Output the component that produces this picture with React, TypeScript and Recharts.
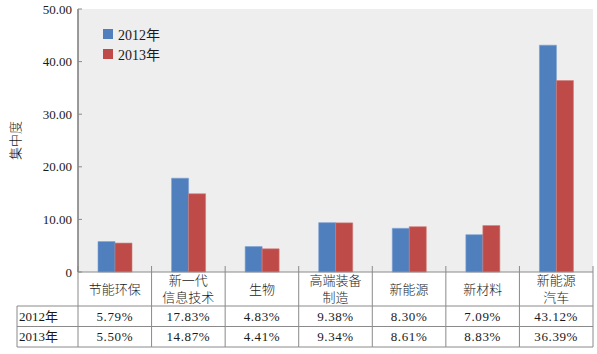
import React from "react";
import { BarChart, Bar, XAxis, YAxis, CartesianGrid, Legend } from "recharts";

const categories = ["节能环保", "新一代\n信息技术", "生物", "高端装备\n制造", "新能源", "新材料", "新能源\n汽车"];
const values2012 = [5.79, 17.83, 4.83, 9.38, 8.3, 7.09, 43.12];
const values2013 = [5.5, 14.87, 4.41, 9.34, 8.61, 8.83, 36.39];
const seriesNames = ["2012年", "2013年"];
const yTicks = [0, 10, 20, 30, 40, 50];

const data = categories.map((c, i) => ({ name: c, y2012: values2012[i], y2013: values2013[i] }));

const W = 597;
const H = 354;
const PLOT_LEFT = 78;
const PLOT_RIGHT = 593;
const CELL_W = (PLOT_RIGHT - PLOT_LEFT) / categories.length;
const LINE = "#8a8a8a";
const TXT = "#1a1a1a";
const FONT = "'Liberation Serif', 'Noto Sans CJK SC', serif";
const CJK = "'Noto Sans CJK SC', sans-serif";

const fmtPct = (v: number) => v.toFixed(2) + "%";

function TableTick(props: any) {
  const { x, y, payload } = props;
  const idx = payload.index;
  const lines = String(payload.value).split("\n");
  const left = x - CELL_W / 2;
  const right = x + CELL_W / 2;
  const top = y;
  const r1 = top + 34;
  const r2 = r1 + 20.5;
  const r3 = r2 + 20.5;
  const catCenter = (top + r1) / 2;
  const lh = 17.5;
  return (
    <g>
      <line x1={left} x2={left} y1={top - 6} y2={r3} stroke={LINE} strokeWidth={1} />
      {idx === categories.length - 1 && (
        <line x1={right} x2={right} y1={top - 6} y2={r3} stroke={LINE} strokeWidth={1} />
      )}
      <line x1={left} x2={right} y1={r1} y2={r1} stroke={LINE} strokeWidth={1} />
      <line x1={left} x2={right} y1={r2} y2={r2} stroke={LINE} strokeWidth={1} />
      <line x1={left} x2={right} y1={r3} y2={r3} stroke={LINE} strokeWidth={1} />
      {lines.map((l, k) => (
        <text
          key={k}
          x={x}
          y={catCenter + (k - (lines.length - 1) / 2) * lh}
          dy="0.36em"
          textAnchor="middle"
          fontSize={13}
          fontFamily={CJK}
          fontWeight={300}
          fill={TXT}
        >
          {l}
        </text>
      ))}
      <text x={x} y={(r1 + r2) / 2} dy="0.36em" textAnchor="middle" fontSize={13} letterSpacing={0.6} fontFamily={FONT} fill={TXT}>
        {fmtPct(values2012[idx])}
      </text>
      <text x={x} y={(r2 + r3) / 2} dy="0.36em" textAnchor="middle" fontSize={13} letterSpacing={0.6} fontFamily={FONT} fill={TXT}>
        {fmtPct(values2013[idx])}
      </text>
      {idx === 0 && (
        <g>
          <line x1={17} x2={left} y1={r1} y2={r1} stroke={LINE} strokeWidth={1} />
          <line x1={17} x2={left} y1={r2} y2={r2} stroke={LINE} strokeWidth={1} />
          <line x1={17} x2={left} y1={r3} y2={r3} stroke={LINE} strokeWidth={1} />
          <line x1={17} x2={17} y1={r1} y2={r3} stroke={LINE} strokeWidth={1} />
          <text x={19} y={(r1 + r2) / 2} dy="0.36em" fontSize={13} fontFamily={FONT} fill={TXT}>
            {seriesNames[0]}
          </text>
          <text x={19} y={(r2 + r3) / 2} dy="0.36em" fontSize={13} fontFamily={FONT} fill={TXT}>
            {seriesNames[1]}
          </text>
        </g>
      )}
    </g>
  );
}

function YTick(props: any) {
  const { x, y, payload } = props;
  const v = payload.value;
  return (
    <g>
      <line x1={x} x2={x + 4} y1={y} y2={y} stroke={LINE} strokeWidth={1} />
      <text x={x - 6} y={y} dy="0.36em" textAnchor="end" fontSize={13} fontFamily={FONT} fill={TXT}>
        {v === 0 ? "0" : v.toFixed(2)}
      </text>
    </g>
  );
}

function YLabel(props: any) {
  const { viewBox } = props;
  const cx = viewBox.x + 15;
  const cy = viewBox.y + viewBox.height / 2;
  return (
    <text
      x={cx}
      y={cy}
      transform={`rotate(-90, ${cx}, ${cy})`}
      textAnchor="middle"
      dy="0.36em"
      fontSize={13}
      fontFamily={CJK}
      fontWeight={300}
      fill={TXT}
    >
      集中度
    </text>
  );
}

function LegendContent(props: any) {
  const { payload } = props;
  return (
    <div style={{ fontFamily: FONT, fontSize: 14, color: TXT }}>
      {(payload || []).map((p: any, i: number) => (
        <div key={i} style={{ display: "flex", alignItems: "center", height: 20 }}>
          <span style={{ display: "inline-block", width: 10, height: 10, background: p.color, marginRight: 5 }} />
          <span>{p.value}</span>
        </div>
      ))}
    </div>
  );
}

export default function App() {
  return (
    <div style={{ position: "absolute", left: 0, top: 0, width: W, height: H, background: "#fff" }}>
      <BarChart
        width={W}
        height={H}
        data={data}
        margin={{ top: 9, right: W - PLOT_RIGHT, left: 0, bottom: 0 }}
        barGap={0}
        barSize={17}
      >
        <CartesianGrid horizontal={false} vertical={false} fill="#eeeeee" />
        <XAxis
          dataKey="name"
          height={82}
          interval={0}
          tickSize={0}
          tickMargin={0}
          tickLine={false}
          axisLine={{ stroke: LINE, strokeWidth: 1 }}
          tick={<TableTick />}
        />
        <YAxis
          width={78}
          domain={[0, 50]}
          ticks={yTicks}
          interval={0}
          tickSize={0}
          tickMargin={0}
          tickLine={false}
          axisLine={{ stroke: "#7a7a7a", strokeWidth: 1.5 }}
          tick={<YTick />}
          label={<YLabel />}
        />
        <Legend
          layout="vertical"
          align="center"
          verticalAlign="middle"
          wrapperStyle={{ left: 103, top: 24, width: "auto", height: "auto" }}
          content={<LegendContent />}
        />
        <Bar dataKey="y2012" name={seriesNames[0]} fill="#4f7fbc" stroke="#7a9fd1" strokeWidth={0.6} isAnimationActive={false} />
        <Bar dataKey="y2013" name={seriesNames[1]} fill="#bf4b48" stroke="#cf7a77" strokeWidth={0.6} isAnimationActive={false} />
      </BarChart>
    </div>
  );
}
